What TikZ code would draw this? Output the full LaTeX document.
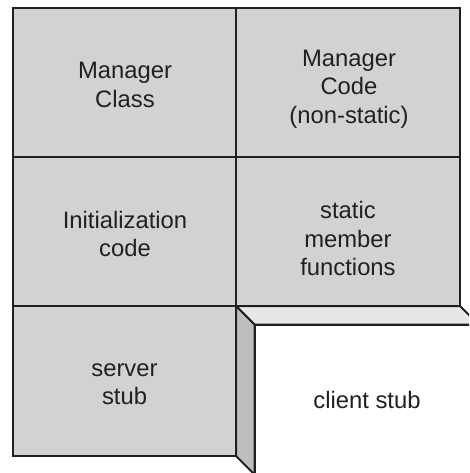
\documentclass[tikz,border=0pt]{standalone}
\usepackage{fontspec}
\setmainfont{Liberation Sans}
\definecolor{cellgray}{HTML}{D1D2D4}
\definecolor{topbevel}{HTML}{E6E7E8}
\definecolor{sidebevel}{HTML}{BCBEC0}
\definecolor{inkline}{HTML}{231F20}
\tikzset{
  edge/.style={draw=inkline, line width=2pt, line join=miter},
  label/.style={align=center, font=\fontsize{23.8}{28.5}\selectfont, text=inkline, inner sep=0pt}
}
\begin{document}
\begin{tikzpicture}[x=1pt, y=-1pt]
\useasboundingbox (0,0) rectangle (469,473);
\clip (0,0) rectangle (469,473);
% gray cells
\fill[cellgray] (13,8) rectangle (460,306);
\fill[cellgray] (13,306) rectangle (236,456);
% bevels of client stub
\filldraw[edge, fill=topbevel] (236,306) -- (460,306) -- (478.5,324.5) -- (254.5,324.5) -- cycle;
\filldraw[edge, fill=sidebevel] (236,306) -- (254.5,324.5) -- (254.5,474.5) -- (236,456) -- cycle;
\filldraw[edge, fill=white] (254.5,324.5) rectangle (480,480);
% grid lines
\draw[edge] (13,8) rectangle (460,306);
\draw[edge] (236,8) -- (236,456);
\draw[edge] (13,157) -- (460,157);
\draw[edge] (13,306) rectangle (236,456);
% labels
\node[label] (mgrclass) at (125,85) {Manager\\Class};
\node[label] (mgrcode) at (349,89) {Manager\\Code\\(non-static)};
\node[label] (init) at (125,234) {Initialization\\code};
\node[label] (static) at (348,238.5) {static\\member\\functions};
\node[label] (server) at (124.5,384) {server\\stub};
\node[label] (client) at (367,399.5) {client stub};
\end{tikzpicture}
\end{document}
